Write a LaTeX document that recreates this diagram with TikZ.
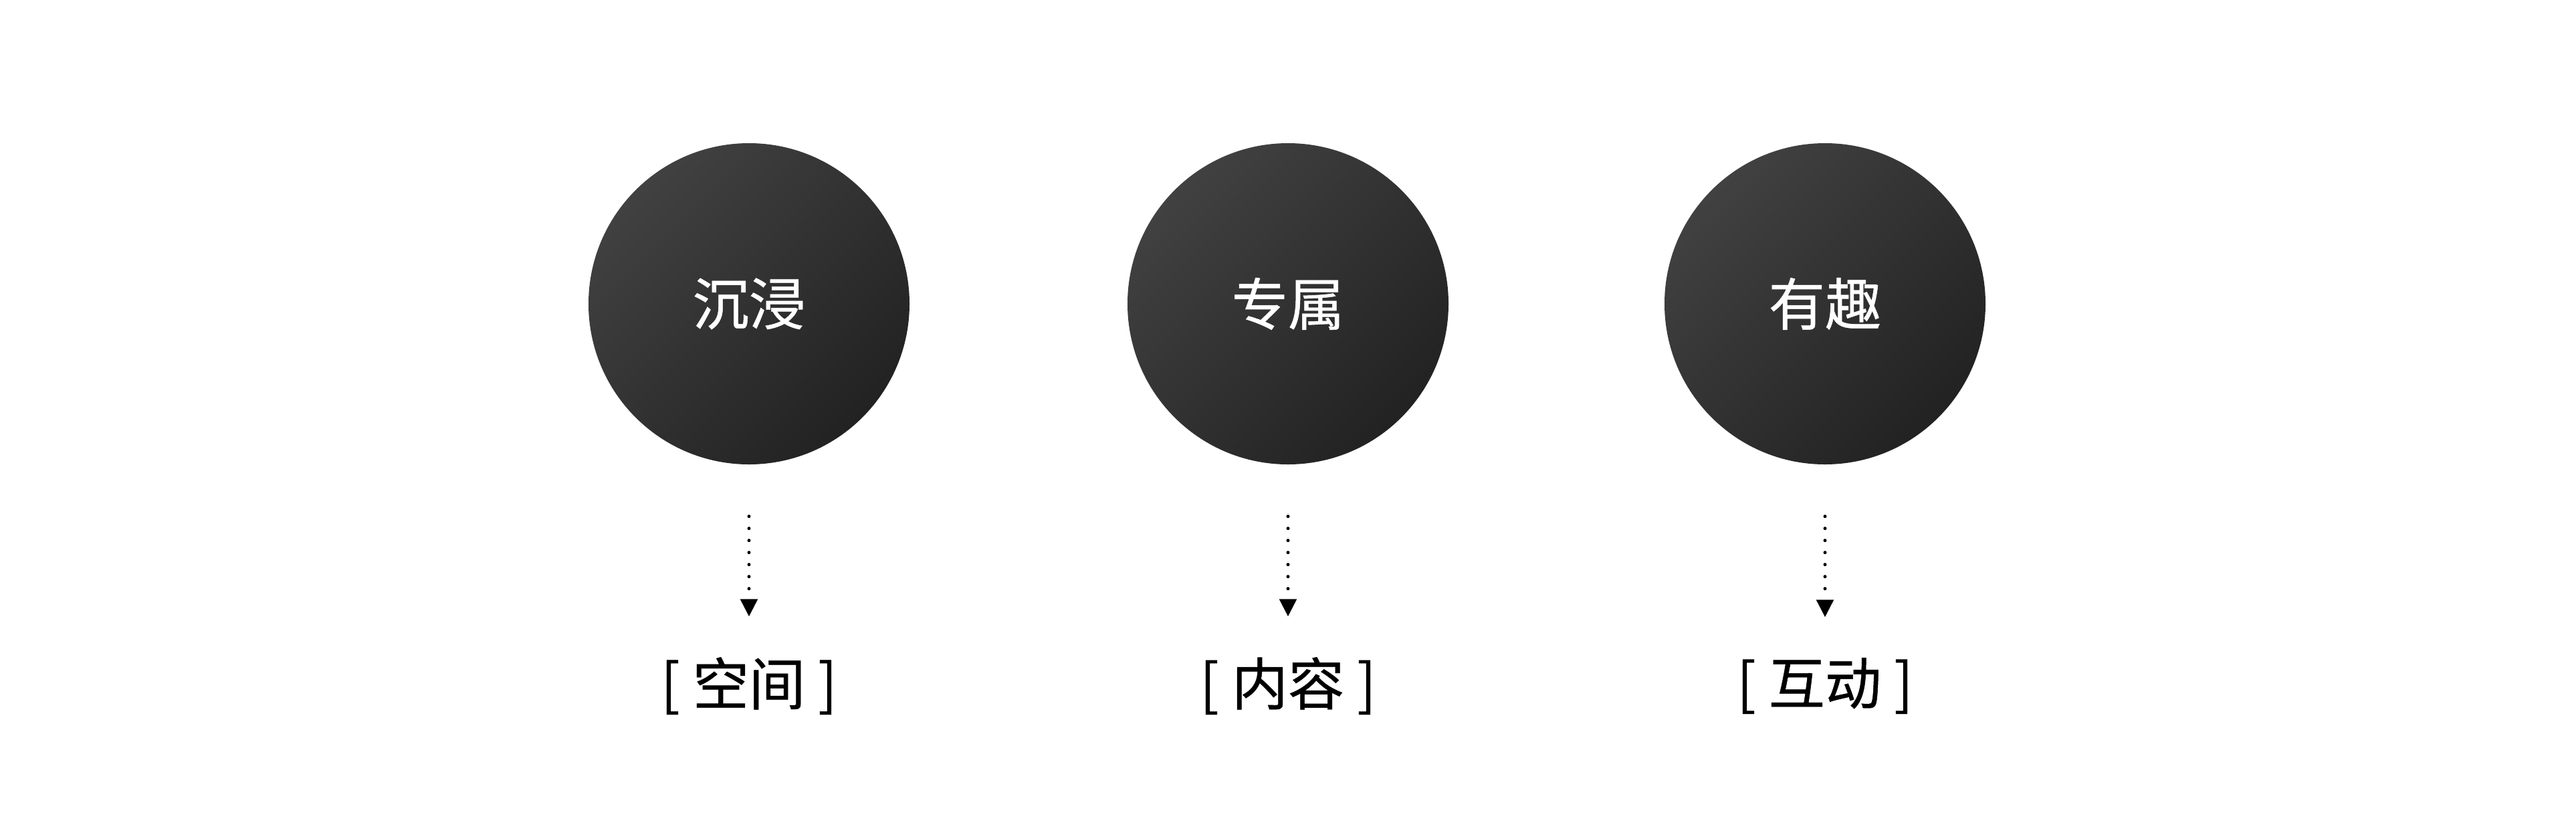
\documentclass[tikz,border=0pt]{standalone}
\usepackage{fontspec}
\setmainfont{Noto Sans CJK SC}[FakeBold=0.6]
\usetikzlibrary{arrows.meta,positioning}
\definecolor{discdark}{HTML}{222222}
\definecolor{disclight}{HTML}{414141}

\begin{document}
\begin{tikzpicture}[x=1cm,y=1cm,font=\fontsize{24}{28}\selectfont,
 disc/.style={circle,minimum size=4.8cm,inner sep=0pt,text=white,
  top color=disclight,bottom color=discdark,shading angle=45},
 tag/.style={inner sep=0pt,text=black},
 dotarr/.style={-{Triangle[width=2.5mm,length=2.6mm]},line width=.5mm,line cap=round,
  dash pattern=on 0pt off 1.8mm,shorten <=7.7mm,shorten >=6mm}]
\useasboundingbox (0,0) rectangle (38.52,-12.2);
\node[disc] (immerse) at (11.2,-4.54) {沉浸};
\node[disc] (exclusive) at (19.26,-4.54) {专属};
\node[disc] (fun) at (27.29,-4.54) {有趣};
\node[tag] (space) at (11.2,-10.25) {[ 空间 ]};
\node[tag] (content) at (19.26,-10.25) {[ 内容 ]};
\node[tag] (interact) at (27.29,-10.25) {[ 互动 ]};
\draw[dotarr] (immerse.south) -- (space.north);
\draw[dotarr] (exclusive.south) -- (content.north);
\draw[dotarr] (fun.south) -- (interact.north);
\end{tikzpicture}
\end{document}
